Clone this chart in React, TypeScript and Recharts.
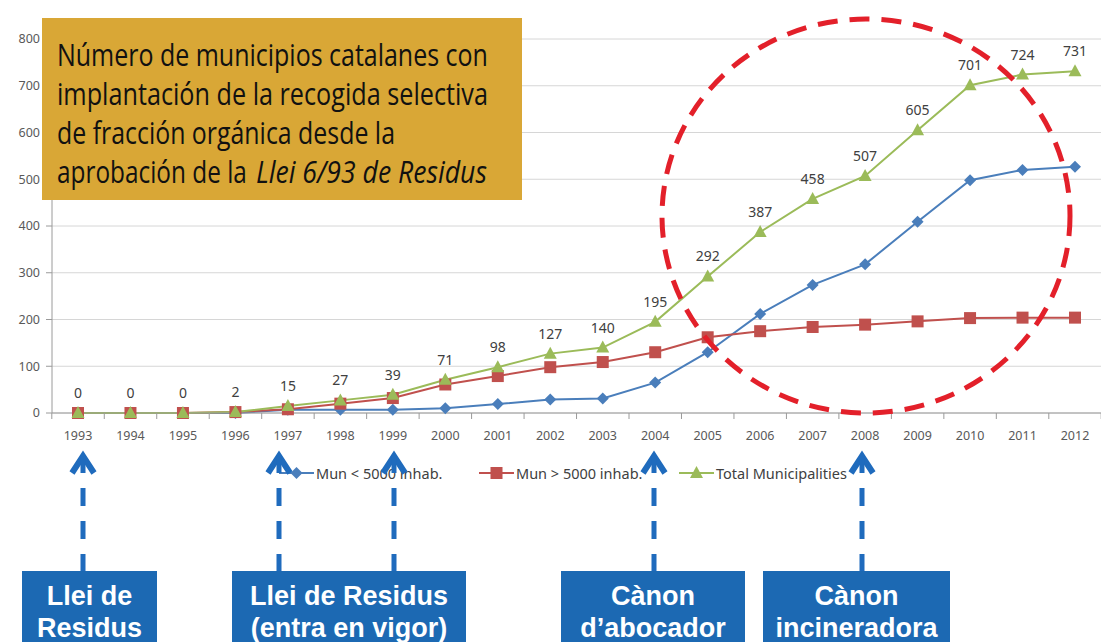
import React, { useLayoutEffect, useRef, useState } from 'react';
import { LineChart, Line, XAxis, YAxis, CartesianGrid, Legend, LabelList } from 'recharts';

// years on the x axis
const years = ['1993', '1994', '1995', '1996', '1997', '1998', '1999', '2000', '2001', '2002',
  '2003', '2004', '2005', '2006', '2007', '2008', '2009', '2010', '2011', '2012'];

// municipalities < 5000 inhab.
const munSmall = [0, 0, 0, 0, 7, 7, 7, 10, 19, 29, 31, 65, 130, 212, 274, 318, 409, 498, 520, 527];
// municipalities > 5000 inhab.
const munLarge = [0, 0, 0, 2, 8, 20, 32, 61, 79, 98, 109, 130, 162, 175, 184, 189, 196, 203, 204, 204];
// total municipalities
const totalMun = [0, 0, 0, 2, 15, 27, 39, 71, 98, 127, 140, 195, 292, 387, 458, 507, 605, 701, 724, 731];

const yTicks = [0, 100, 200, 300, 400, 500, 600, 700, 800];

// title text pieces: [text, italic, x, line, target width]
const titleParts: [string, boolean, number, number, number][] = [
  ['Número de municipios catalanes con', false, 57, 0, 431],
  ['implantación de la recogida selectiva', false, 57, 1, 431],
  ['de fracción orgánica desde la', false, 57, 2, 338],
  ['aprobación de la', false, 57, 3, 190],
  ['Llei 6/93 de Residus', true, 256, 3, 231],
];

const milestones = [
  { lines: ['Llei de', 'Residus'], arrows: [83] },
  { lines: ['Llei de Residus', '(entra en vigor)'], arrows: [279, 394] },
  { lines: ['Cànon', 'd’abocador'], arrows: [654] },
  { lines: ['Cànon', 'incineradora'], arrows: [862] },
];
const boxGeom = [
  { x: 22, w: 135 },
  { x: 232, w: 234 },
  { x: 561, w: 184 },
  { x: 763, w: 187 },
];

const data = years.map((y, i) => ({
  year: y,
  small: munSmall[i],
  large: munLarge[i],
  total: totalMun[i],
}));

const BLUE = '#4a7ebb';
const RED = '#c0504d';
const GREEN = '#9bbb59';
const ARROW = '#1f6bbd';
const BOX = '#1c69b3';

const marker = (kind: string, cx: number, cy: number, color: string, key?: any) => {
  if (kind === 'diamond') {
    return <path key={key} d={`M${cx},${cy - 6}L${cx + 6},${cy}L${cx},${cy + 6}L${cx - 6},${cy}Z`} fill={color} />;
  }
  if (kind === 'square') {
    return <rect key={key} x={cx - 6} y={cy - 6} width={12} height={12} fill={color} />;
  }
  return <path key={key} d={`M${cx},${cy - 7}L${cx + 6.5},${cy + 5}L${cx - 6.5},${cy + 5}Z`} fill={color} />;
};

const dotFn = (kind: string, color: string) => (p: any) => {
  if (p.cx == null || p.cy == null) return <g key={p.index} />;
  return marker(kind, p.cx, p.cy, color, `${kind}-${p.index}`);
};

const series = [
  { key: 'small', name: 'Mun < 5000 inhab.', color: BLUE, kind: 'diamond' },
  { key: 'large', name: 'Mun > 5000 inhab.', color: RED, kind: 'square' },
  { key: 'total', name: 'Total Municipalities', color: GREEN, kind: 'triangle' },
];

const XTick = (props: any) => {
  const { x, y, payload } = props;
  const half = 26.2;
  const axisY = y - 18;
  return (
    <g>
      <line x1={x - half} x2={x - half} y1={axisY} y2={axisY + 6} stroke="#9a9a9a" />
      {payload.index === years.length - 1 && (
        <line x1={x + half} x2={x + half} y1={axisY} y2={axisY + 6} stroke="#9a9a9a" />
      )}
      <text x={x} y={y + 9} textAnchor="middle" fontSize={12.5} fill="#595959" fontFamily="Noto Sans">
        {payload.value}
      </text>
    </g>
  );
};

const LegendBox = () => (
  <div style={{ display: 'flex', paddingLeft: 279, fontFamily: 'Noto Sans', fontSize: 14.5, color: '#404040' }}>
    {series.map((s) => (
      <div key={s.key} style={{ width: 200, display: 'flex', alignItems: 'center' }}>
        <svg width={35} height={14}>
          <line x1={0} x2={35} y1={7} y2={7} stroke={s.color} strokeWidth={2} />
          {marker(s.kind, 17.5, 7, s.color)}
        </svg>
        <span style={{ marginLeft: 2 }}>{s.name}</span>
      </div>
    ))}
  </div>
);

// text squeezed horizontally to a given width
const FitText = ({ x, y, width, italic, children }: any) => {
  const ref = useRef<SVGTextElement>(null);
  const [sx, setSx] = useState(1);
  useLayoutEffect(() => {
    if (ref.current) {
      const w = ref.current.getComputedTextLength();
      if (w > 0) setSx(width / w);
    }
  }, [width]);
  return (
    <text
      ref={ref}
      transform={`translate(${x} ${y}) scale(${sx} 1)`}
      fontSize={31}
      fontFamily="Open Sans"
      fontStyle={italic ? 'italic' : 'normal'}
      fill="#111"
    >
      {children}
    </text>
  );
};

export default function App() {
  return (
    <div style={{ position: 'absolute', left: 0, top: 0, width: 1101, height: 642, background: '#fff', overflow: 'hidden' }}>
      <LineChart width={1101} height={642} data={data} margin={{ top: 19, right: 0, left: 0, bottom: 0 }}>
        <CartesianGrid vertical={false} stroke="#d6d6d6" />
        <XAxis
          dataKey="year"
          height={229}
          padding={{ left: 26, right: 26 }}
          tickLine={false}
          tickSize={6}
          tickMargin={12}
          axisLine={{ stroke: '#9a9a9a' }}
          tick={<XTick />}
          interval={0}
        />
        <YAxis
          width={52}
          domain={[0, 800]}
          ticks={yTicks}
          tickSize={6}
          tickMargin={6}
          axisLine={{ stroke: '#9a9a9a' }}
          tickLine={{ stroke: '#9a9a9a' }}
          tick={{ fontSize: 12.5, fill: '#595959', fontFamily: 'Noto Sans' }}
        />
        <Legend
          verticalAlign="top"
          content={<LegendBox />}
          wrapperStyle={{ top: 463, left: 0, width: 1101 }}
        />
        {series.map((s) => (
          <Line
            key={s.key}
            type="linear"
            dataKey={s.key}
            name={s.name}
            stroke={s.color}
            strokeWidth={2}
            dot={dotFn(s.kind, s.color)}
            activeDot={false}
            isAnimationActive={false}
          >
            {s.key === 'total' && (
              <LabelList dataKey="total" position="top" offset={15} fontSize={14} fill="#404040" fontFamily="Noto Sans" />
            )}
          </Line>
        ))}
      </LineChart>

      <svg width={1101} height={642} style={{ position: 'absolute', left: 0, top: 0, pointerEvents: 'none' }}>
        {/* title box */}
        <rect x={42} y={18} width={480} height={182} fill="#d9a736" />
        {titleParts.map(([t, it, x, line, w], i) => (
          <FitText key={i} x={x} y={66 + line * 39} width={w} italic={it}>
            {t}
          </FitText>
        ))}

        {/* dashed circle */}
        <ellipse cx={866} cy={216} rx={204} ry={197} fill="none" stroke="#e3202a" strokeWidth={5} strokeDasharray="20 12" />

        {/* arrows */}
        {milestones.flatMap((m) => m.arrows).map((ax, i) => (
          <g key={i} stroke={ARROW} fill="none">
            <polyline points={`${ax - 11},${473} ${ax},${456} ${ax + 11},${473}`} strokeWidth={6} strokeLinejoin="miter" />
            <line x1={ax} x2={ax} y1={455} y2={572} strokeWidth={5} strokeDasharray="18 15" />
          </g>
        ))}

        {/* milestone boxes */}
        {milestones.map((m, i) => {
          const b = boxGeom[i];
          return (
            <g key={i}>
              <rect x={b.x} y={571} width={b.w} height={80} fill={BOX} />
              {m.lines.map((t, j) => (
                <text
                  key={j}
                  x={b.x + b.w / 2}
                  y={605 + j * 32}
                  textAnchor="middle"
                  fill="#fff"
                  fontSize={27}
                  fontWeight="bold"
                  fontFamily="Liberation Sans"
                >
                  {t}
                </text>
              ))}
            </g>
          );
        })}
      </svg>
    </div>
  );
}
